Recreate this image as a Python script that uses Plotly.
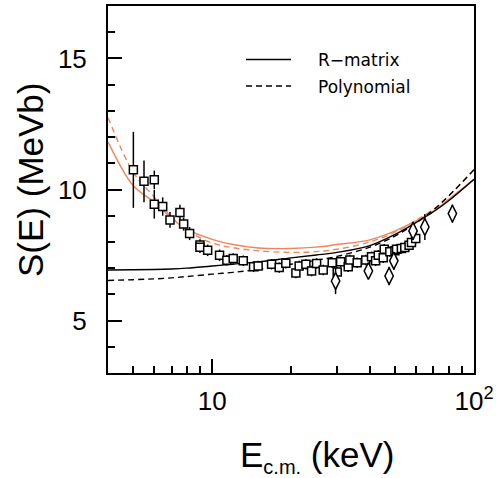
import math
import plotly.graph_objects as go

# ---------------- data ----------------
# squares (data set 1)
sq_E = [5.0, 5.49, 6.01, 6.01, 6.47, 6.90, 7.53, 7.78, 8.20, 8.98, 8.98, 9.61,
        10.67, 11.38, 12.03, 13.14, 14.39, 14.98, 16.86, 18.03, 19.11, 20.88,
        21.49, 22.80, 23.97, 25.05, 26.55, 28.74, 30.03, 30.94, 33.08, 33.57,
        35.8, 38.6, 40.6, 42.1, 43.1, 45.0, 45.4, 47.7, 49.9, 50.6, 52.8,
        54.4, 56.5, 57.7, 59.9]
sq_S = [10.75, 10.31, 10.37, 9.44, 9.35, 8.84, 9.12, 8.68, 8.32, 7.88, 7.80, 7.68,
        7.49, 7.30, 7.37, 7.28, 7.05, 7.08, 7.15, 7.02, 7.19, 6.81,
        7.08, 7.15, 6.89, 7.18, 6.93, 7.21, 6.85, 7.24, 7.05, 7.31,
        7.21, 7.31, 7.43, 7.28, 7.49, 7.40, 7.72, 7.63, 7.66, 7.72, 7.75,
        7.79, 7.87, 7.98, 8.13]
sq_err = [1.45, 0.80, 0.35, 0.55, 0.35, 0.30, 0.30, 0.25, 0.25, 0.22, 0.22, 0.22,
          0.22, 0.2, 0.2, 0.2, 0.2, 0.2, 0.2, 0.2, 0.2, 0.2,
          0.2, 0.2, 0.2, 0.2, 0.2, 0.2, 0.2, 0.2, 0.2, 0.2,
          0.2, 0.2, 0.2, 0.2, 0.2, 0.2, 0.2, 0.2, 0.2, 0.2, 0.2,
          0.2, 0.2, 0.2, 0.2]

# diamonds (data set 2)
di_E = [29.6, 39.5, 47.4, 49.4, 58.5, 64.9, 82.7]
di_S = [6.51, 6.89, 6.70, 7.28, 8.42, 8.57, 9.08]
di_err = [0.5, 0.3, 0.35, 0.35, 0.35, 0.5, 0.35]

# fitted curves
curve_E = [4, 5, 6, 7, 8, 10, 12, 15, 20, 25, 30, 40, 50, 60, 70, 80, 100]
rmatrix_S = [6.93, 6.94, 6.95, 6.97, 7.0, 7.08, 7.15, 7.24, 7.39, 7.5, 7.6, 7.86,
             8.29, 8.74, 9.15, 9.57, 10.39]
poly_S = [6.53, 6.56, 6.59, 6.63, 6.68, 6.77, 6.84, 6.95, 7.15, 7.3, 7.45, 7.8,
          8.23, 8.72, 9.22, 9.75, 10.75]
rmatrix2_S = [11.82, 10.14, 9.52, 8.9, 8.48, 8.1, 7.9, 7.77, 7.75, 7.8, 7.9, 8.08,
              8.42, 8.8, 9.18, 9.63, 10.39]
poly2_S = [12.75, 10.65, 9.72, 8.95, 8.45, 7.96, 7.78, 7.66, 7.6, 7.63, 7.72, 8.0,
           8.38, 8.82, 9.25, 9.76, 10.77]

x_major = [10, 100]
x_major_text = ["10", "10<sup>2</sup>"]
x_minor = [5, 6, 7, 8, 9, 20, 30, 40, 50, 60, 70, 80, 90]
y_major = [5, 10, 15]
y_minor = [4, 6, 7, 8, 9, 11, 12, 13, 14, 16]

ORANGE = "#F0845A"
FONT = "Liberation Sans, Arial, sans-serif"

fig = go.Figure()

def curve(y, color, dash):
    fig.add_trace(go.Scatter(x=curve_E, y=y, mode="lines", line_shape="spline",
                             line=dict(color=color, width=1.4, dash=dash),
                             showlegend=False, hoverinfo="skip"))

curve(rmatrix2_S, ORANGE, "solid")
curve(poly2_S, ORANGE, "6px,4px")
curve(rmatrix_S, "black", "solid")
curve(poly_S, "black", "6px,4px")

fig.add_trace(go.Scatter(
    x=sq_E, y=sq_S, mode="markers",
    marker=dict(symbol="square", size=8, color="white",
                line=dict(color="black", width=1.5)),
    error_y=dict(type="data", array=sq_err, color="black", thickness=1.5, width=0),
    showlegend=False))

fig.add_trace(go.Scatter(
    x=di_E, y=di_S, mode="markers",
    marker=dict(symbol="diamond-tall", size=12, color="white",
                line=dict(color="black", width=1.5)),
    error_y=dict(type="data", array=di_err, color="black", thickness=1.5, width=0),
    showlegend=False))

# legend drawn manually
L, R, T, B = 108, 474, 6, 373
W, H = R - L, B - T
def px(xp):
    return (xp - L) / W
def py(yp):
    return (B - yp) / H

fig.add_shape(type="line", xref="paper", yref="paper",
              x0=px(246), x1=px(291), y0=py(59.5), y1=py(59.5),
              line=dict(color="black", width=1.4))
fig.add_shape(type="line", xref="paper", yref="paper",
              x0=px(246), x1=px(291), y0=py(86), y1=py(86),
              line=dict(color="black", width=1.4, dash="6px,4px"))
fig.add_annotation(text="R−matrix", xref="paper", yref="paper", x=px(316), y=py(60),
                   xanchor="left", yanchor="middle", showarrow=False,
                   font=dict(family="DejaVu Sans", size=17, color="black"))
fig.add_annotation(text="Polynomial", xref="paper", yref="paper", x=px(316), y=py(87),
                   xanchor="left", yanchor="middle", showarrow=False,
                   font=dict(family="DejaVu Sans", size=17, color="black"))

# axis titles
fig.add_annotation(text="S(E) (MeVb)", xref="paper", yref="paper", x=px(30), y=py(180),
                   textangle=-90, xanchor="center", yanchor="middle", showarrow=False,
                   font=dict(family=FONT, size=35, color="black"))
fig.add_annotation(text="E<sub><span style='font-size:20px'>c.m.</span></sub> (keV)",
                   xref="paper", yref="paper", x=px(317), y=py(456),
                   xanchor="center", yanchor="middle", showarrow=False,
                   font=dict(family=FONT, size=35, color="black"))

fig.update_xaxes(type="log", range=[math.log10(4), 2], automargin=False,
                 showline=True, linecolor="black", linewidth=2, mirror=True,
                 showgrid=False, zeroline=False,
                 tickmode="array", tickvals=x_major, ticktext=x_major_text,
                 ticks="inside", ticklen=14, tickwidth=1.5, tickcolor="black",
                 ticklabelstandoff=4,
                 tickfont=dict(family=FONT, size=26, color="black"),
                 minor=dict(tickmode="array", tickvals=x_minor, ticks="inside",
                            ticklen=7, tickwidth=1.5, tickcolor="black", showgrid=False))
fig.update_yaxes(range=[3, 17], automargin=False,
                 showline=True, linecolor="black", linewidth=2, mirror=True,
                 showgrid=False, zeroline=False,
                 tickmode="array", tickvals=y_major,
                 ticks="inside", ticklen=14, tickwidth=1.5, tickcolor="black",
                 ticklabelstandoff=14,
                 tickfont=dict(family=FONT, size=26, color="black"),
                 minor=dict(tickmode="array", tickvals=y_minor, ticks="inside",
                            ticklen=7, tickwidth=1.5, tickcolor="black", showgrid=False))

fig.update_layout(width=503, height=478,
                  margin=dict(l=L, r=503 - R, t=T, b=478 - B, autoexpand=False),
                  paper_bgcolor="white", plot_bgcolor="white",
                  showlegend=False)

fig.write_html("out.html", config={"displayModeBar": False},
               post_script="document.body.style.margin='0';document.body.style.padding='0';")
